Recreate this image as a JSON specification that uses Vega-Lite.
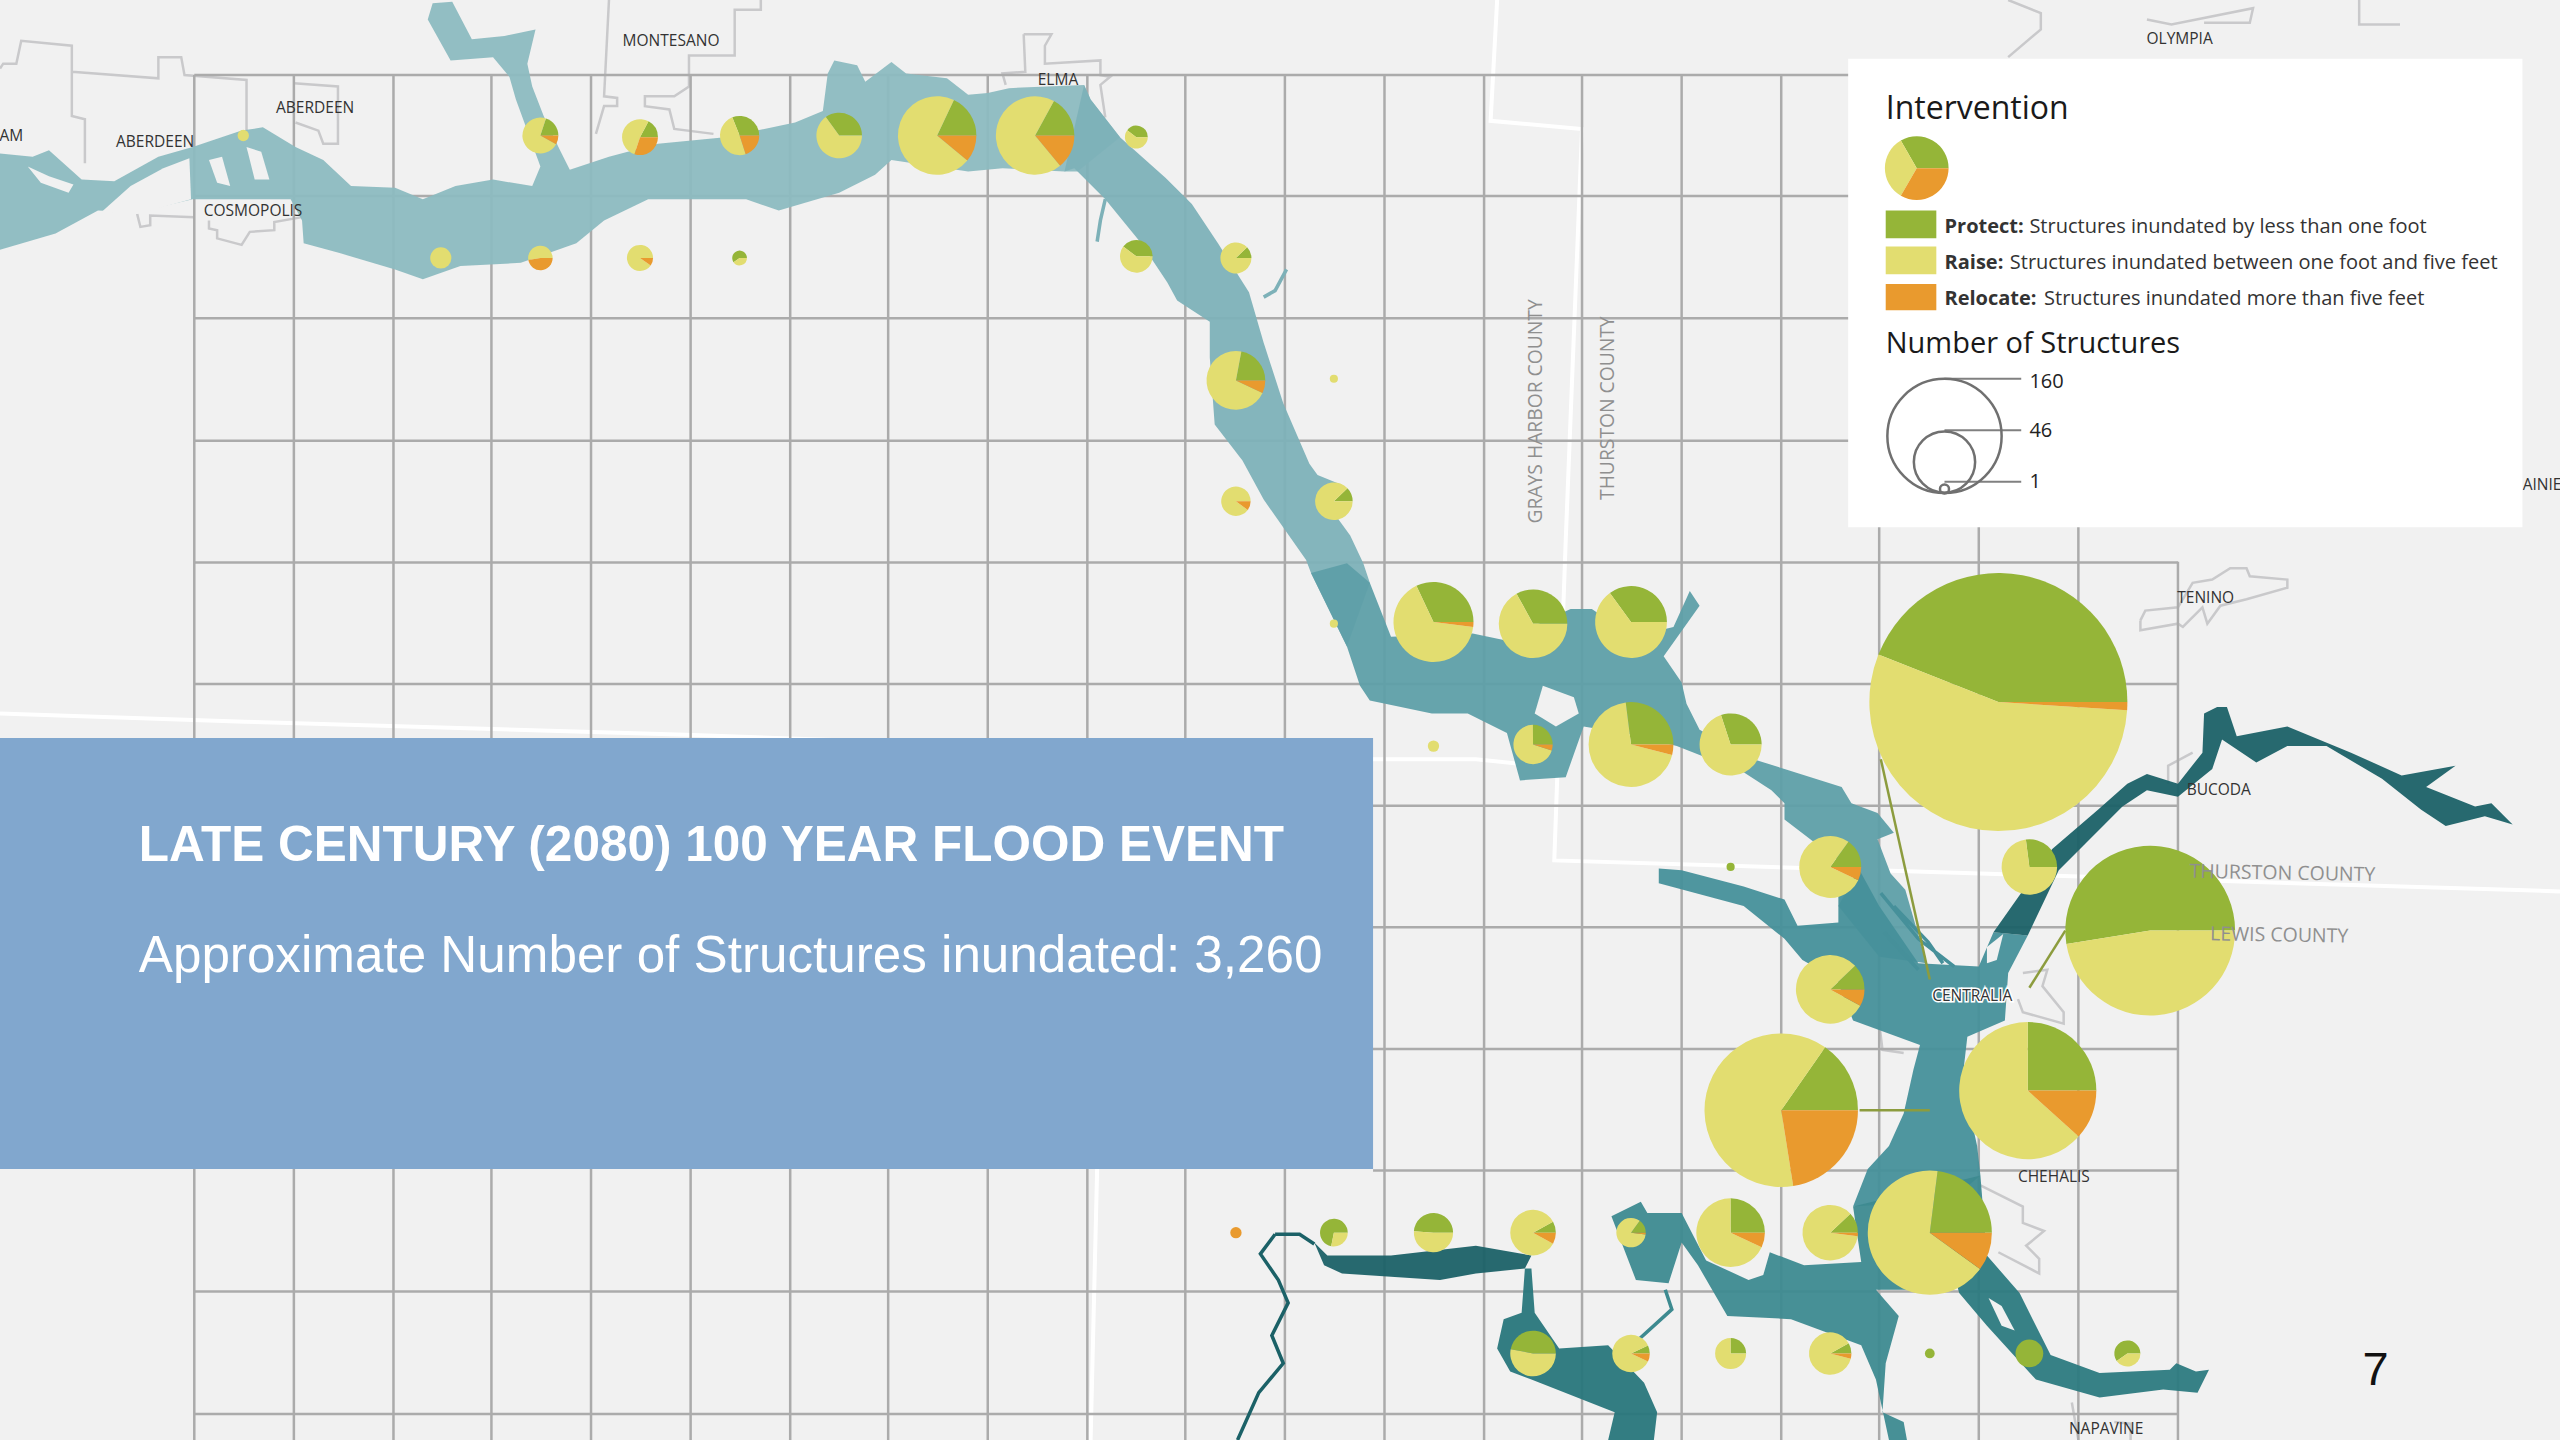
{"$schema":"https://vega.github.io/schema/vega-lite/v6.json","width":2560,"height":1440,"padding":0,"autosize":{"type":"none"},"background":"#f1f1f1","config":{"view":{"stroke":null},"axis":{"disable":true},"legend":{"disable":true}},
"layer":[
{"data":{"values":[
{"type":"Feature","properties":{"kind":"county"},"geometry":{"type":"LineString","coordinates":[[917,0],[913,74],[969,79],[959,331],[952,527],[1213,535],[1568,546]]}},
{"type":"Feature","properties":{"kind":"county"},"geometry":{"type":"LineString","coordinates":[[0,437],[150,442],[420,450],[841,465],[904,465],[952,470]]}},
{"type":"Feature","properties":{"kind":"county"},"geometry":{"type":"LineString","coordinates":[[672,716],[668,882]]}}]},
"mark":{"type":"geoshape","filled":false,"stroke":"#ffffff","strokeWidth":4},"projection":{"type":"identity","scale":1.63265,"translate":[0,0]}},
{"data":{"values":[
{"type":"Feature","properties":{"kind":"city"},"geometry":{"type":"MultiLineString","coordinates":[
[[0,42],[2,39],[10,39],[13,25],[44,28],[44,71],[52,73],[52,100]],
[[44,44],[97,48],[97,35],[111,35],[113,46],[151,49],[151,82]],
[[180,51],[207,53],[207,88],[198,88],[195,80],[181,75]],
[[128,135],[128,140],[133,141],[133,146],[148,150],[153,142],[168,141],[168,136],[185,133]],
[[84,131],[86,139],[92,138],[92,132],[119,133]],
[[373,0],[370,59],[378,60],[378,65],[370,65],[365,82]],
[[466,0],[466,6],[450,6],[450,34],[422,34],[422,53],[413,59],[395,59],[395,65],[410,67],[413,79],[437,82]],
[[627,21],[644,21],[640,28],[640,39],[674,37],[674,46],[680,47],[674,52],[677,72]],
[[627,21],[628,44],[614,45],[616,52]],
[[1230,0],[1250,8],[1250,18],[1230,35]],
[[1315,12],[1330,15],[1380,5],[1378,14],[1350,14]],
[[1445,0],[1445,15],[1470,15]],
[[1311,380],[1314,374],[1334,372],[1343,357],[1355,355],[1366,348],[1376,348],[1378,353],[1401,355],[1401,360],[1376,367],[1360,371],[1352,382],[1349,372],[1337,384],[1334,382],[1311,386],[1311,380]],
[[1328,480],[1328,469],[1343,461]],
[[1239,596],[1254,594],[1251,604],[1264,620],[1264,627],[1239,620],[1236,612]],
[[1213,726],[1239,739],[1239,749],[1252,754],[1241,763],[1249,771],[1249,780],[1224,767]],
[[1269,859],[1273,882]],[[1295,871],[1305,872],[1305,882]],
[[1151,626],[1153,643],[1166,645]]
]}}]},
"mark":{"type":"geoshape","filled":false,"stroke":"#c9c9cb","strokeWidth":2.5},"projection":{"type":"identity","scale":1.63265,"translate":[0,0]}},
{"data":{"values":[
{"x":119,"x2":119,"y":46,"y2":882},{"x":180,"x2":180,"y":46,"y2":882},{"x":241,"x2":241,"y":46,"y2":882},{"x":301,"x2":301,"y":46,"y2":882},{"x":362,"x2":362,"y":46,"y2":882},{"x":423,"x2":423,"y":46,"y2":882},{"x":484,"x2":484,"y":46,"y2":882},{"x":544,"x2":544,"y":46,"y2":882},{"x":605,"x2":605,"y":46,"y2":882},{"x":666,"x2":666,"y":46,"y2":882},{"x":726,"x2":726,"y":46,"y2":882},{"x":787,"x2":787,"y":46,"y2":882},{"x":848,"x2":848,"y":46,"y2":882},{"x":909,"x2":909,"y":46,"y2":882},{"x":969,"x2":969,"y":46,"y2":882},{"x":1030,"x2":1030,"y":46,"y2":882},{"x":1091,"x2":1091,"y":46,"y2":882},{"x":1151,"x2":1151,"y":46,"y2":882},{"x":1212,"x2":1212,"y":46,"y2":882},{"x":1273,"x2":1273,"y":46,"y2":882},{"x":1334,"x2":1334,"y":344,"y2":882},
{"x":119,"x2":1334,"y":46,"y2":46},{"x":119,"x2":1334,"y":120,"y2":120},{"x":119,"x2":1334,"y":195,"y2":195},{"x":119,"x2":1334,"y":270,"y2":270},{"x":119,"x2":1334,"y":344.5,"y2":344.5},{"x":119,"x2":1334,"y":419,"y2":419},{"x":119,"x2":1334,"y":493.5,"y2":493.5},{"x":119,"x2":1334,"y":568,"y2":568},{"x":119,"x2":1334,"y":642.5,"y2":642.5},{"x":841,"x2":1334,"y":717,"y2":717},{"x":119,"x2":1334,"y":791,"y2":791},{"x":119,"x2":1334,"y":866,"y2":866}]},
"mark":{"type":"rule","color":"#ababab","strokeWidth":2.5},
"encoding":{"x":{"field":"x","type":"quantitative","scale":{"domain":[0,1568]}},"x2":{"field":"x2"},"y":{"field":"y","type":"quantitative","scale":{"domain":[882,0]}},"y2":{"field":"y2"}}},
{"data":{"values":[
{"type":"Feature","properties":{"reach":"west"},"geometry":{"type":"Polygon","coordinates":[[[0,94],[20,96],[30,92],[50,110],[70,111],[97,96],[118,90],[148,80],[161,78],[181,90],[198,98],[215,114],[242,115],[259,122],[279,114],[302,110],[326,114],[331,102],[316,61],[312,47],[302,35],[276,37],[262,12],[265,2],[277,1],[289,24],[309,22],[328,18],[323,39],[326,53],[333,71],[343,92],[349,104],[373,96],[403,88],[444,84],[487,75],[504,68],[507,45],[511,37],[525,40],[530,50],[546,38],[555,45],[580,48],[593,58],[605,57],[618,54],[664,52],[668,61],[686,84],[660,105],[652,105],[614,103],[593,105],[546,98],[536,107],[514,118],[477,129],[457,122],[397,122],[370,135],[353,149],[319,161],[282,163],[259,171],[242,165],[208,155],[186,149],[185,135],[178,122],[118,122],[84,130],[60,129],[34,143],[0,153],[0,94]]]}},
{"type":"Feature","properties":{"reach":"north"},"geometry":{"type":"Polygon","coordinates":[[[664,52],[668,61],[686,84],[714,109],[730,125],[746,149],[765,179],[774,210],[786,247],[802,284],[807,291],[822,297],[811,306],[827,328],[835,345],[839,357],[825,396],[803,351],[800,343],[774,306],[761,282],[744,260],[741,219],[741,197],[721,184],[715,173],[699,149],[677,122],[658,103],[652,105],[664,52]]]}},
{"type":"Feature","properties":{"reach":"middle"},"geometry":{"type":"Polygon","coordinates":[[[803,351],[825,345],[839,357],[852,390],[902,388],[921,392],[962,373],[975,373],[1000,390],[1025,384],[1035,362],[1041,371],[1019,402],[1030,418],[1033,431],[1041,447],[1074,465],[1093,471],[1128,482],[1134,492],[1150,498],[1160,510],[1150,514],[1158,535],[1167,545],[1180,590],[1151,586],[1126,555],[1137,535],[1110,515],[1093,502],[1093,492],[1085,484],[1068,473],[1027,457],[1000,450],[970,445],[959,476],[931,478],[923,449],[899,437],[877,437],[839,429],[833,420],[825,396],[803,351]]]}},
{"type":"Feature","properties":{"reach":"trunk"},"geometry":{"type":"Polygon","coordinates":[[[1016,532],[1030,533],[1068,543],[1093,551],[1101,567],[1126,565],[1126,549],[1139,533],[1151,555],[1175,590],[1212,592],[1221,571],[1242,573],[1230,596],[1228,625],[1205,635],[1202,661],[1211,702],[1213,720],[1195,735],[1135,739],[1144,716],[1157,702],[1166,682],[1172,655],[1176,640],[1135,625],[1125,600],[1104,588],[1093,575],[1068,555],[1016,541],[1016,532]]]}},
{"type":"Feature","properties":{"reach":"south"},"geometry":{"type":"Polygon","coordinates":[[[987,745],[1005,736],[1009,743],[1030,743],[1045,772],[1071,784],[1080,781],[1084,767],[1105,775],[1140,773],[1135,739],[1213,720],[1217,770],[1200,788],[1175,790],[1149,790],[1163,806],[1155,835],[1153,865],[1166,871],[1168,882],[1157,882],[1149,845],[1140,824],[1097,808],[1058,806],[1040,775],[1030,761],[1022,786],[1002,784],[987,745]]]}},
{"type":"Feature","properties":{"reach":"southeast"},"geometry":{"type":"Polygon","coordinates":[[[1196,760],[1217,769],[1237,792],[1249,816],[1256,830],[1286,841],[1329,839],[1333,835],[1345,840],[1353,839],[1346,853],[1325,851],[1286,856],[1247,845],[1217,812],[1200,792],[1196,777],[1196,760]]]}},
{"type":"Feature","properties":{"reach":"east"},"geometry":{"type":"Polygon","coordinates":[[[1221,571],[1257,520],[1285,496],[1303,480],[1315,474],[1334,480],[1349,461],[1350,437],[1358,433],[1364,433],[1370,451],[1401,445],[1440,461],[1471,475],[1504,469],[1486,482],[1516,494],[1526,492],[1539,505],[1522,500],[1498,506],[1483,496],[1459,477],[1425,457],[1401,457],[1382,467],[1361,453],[1355,471],[1334,488],[1315,484],[1300,494],[1276,518],[1261,533],[1242,573],[1221,571]]]}},
{"type":"Feature","properties":{"reach":"southwest"},"geometry":{"type":"Polygon","coordinates":[[[805,761],[813,769],[852,769],[904,763],[938,769],[934,777],[904,780],[882,784],[852,782],[822,780],[811,775],[805,761]]]}},
{"type":"Feature","properties":{"reach":"southwest2"},"geometry":{"type":"Polygon","coordinates":[[[934,777],[932,804],[921,808],[917,826],[925,840],[938,845],[989,865],[985,882],[1013,882],[1015,865],[1007,847],[985,824],[955,826],[940,804],[938,777],[934,777]]]}}]},
"mark":{"type":"geoshape","opacity":0.95},"projection":{"type":"identity","scale":1.63265,"translate":[0,0]},
"encoding":{"color":{"field":"properties.reach","type":"nominal","scale":{"domain":["west","north","middle","trunk","south","southeast","east","southwest","southwest2","Protect","Raise","Relocate"],"range":["#8cbac0","#7db1b8","#5e9fa8","#46909a","#3d8a90","#2c7a80","#1b6167","#1b6167","#28767b","#95b538","#e2dd70","#e99a2e"]}}}},
{"data":{"values":[
{"type":"Feature","properties":{"reach":"north"},"geometry":{"type":"MultiLineString","coordinates":[[[774,182],[781,178],[788,165]],[[677,122],[674,135],[672,148]]]}},
{"type":"Feature","properties":{"reach":"southwest"},"geometry":{"type":"MultiLineString","coordinates":[[[781,756],[796,756],[805,762]],[[781,756],[772,768],[783,784],[789,798],[779,818],[786,835],[771,853],[758,882]]]}},
{"type":"Feature","properties":{"reach":"south"},"geometry":{"type":"LineString","coordinates":[[1020,790],[1024,802],[1002,822]]}},
{"type":"Feature","properties":{"reach":"trunk"},"geometry":{"type":"MultiLineString","coordinates":[[[1152,547],[1175,575],[1197,592]],[[1154,571],[1175,594]],[[1160,555],[1181,577],[1190,590]]]}}]},
"mark":{"type":"geoshape","filled":false,"strokeWidth":3.5},"projection":{"type":"identity","scale":1.63265,"translate":[0,0]},
"encoding":{"color":{"field":"properties.reach","type":"nominal","scale":{"domain":["west","north","middle","trunk","south","southeast","east","southwest","southwest2","Protect","Raise","Relocate"],"range":["#8cbac0","#7db1b8","#5e9fa8","#46909a","#3d8a90","#2c7a80","#1b6167","#1b6167","#28767b","#95b538","#e2dd70","#e99a2e"]}}}},
{"data":{"values":[
{"type":"Feature","properties":{"kind":"land"},"geometry":{"type":"Polygon","coordinates":[[[17,102],[30,108],[45,113],[42,118],[25,112],[17,102]]]}},
{"type":"Feature","properties":{"kind":"land"},"geometry":{"type":"Polygon","coordinates":[[[62,130],[80,114],[100,103],[116,97],[117,122],[84,131],[62,130]]]}},
{"type":"Feature","properties":{"kind":"land"},"geometry":{"type":"Polygon","coordinates":[[[128,98],[136,96],[141,114],[133,112],[128,98]]]}},
{"type":"Feature","properties":{"kind":"land"},"geometry":{"type":"Polygon","coordinates":[[[151,90],[160,93],[165,110],[156,110],[151,90]]]}},
{"type":"Feature","properties":{"kind":"land"},"geometry":{"type":"Polygon","coordinates":[[[945,420],[964,427],[967,437],[953,445],[940,437],[945,420]]]}},
{"type":"Feature","properties":{"kind":"land"},"geometry":{"type":"Polygon","coordinates":[[[1218,795],[1226,800],[1234,815],[1226,812],[1218,795]]]}},
{"type":"Feature","properties":{"kind":"land"},"geometry":{"type":"Polygon","coordinates":[[[1217,580],[1227,572],[1223,588],[1217,590],[1217,580]]]}}]},
"mark":{"type":"geoshape","fill":"#f1f1f1","stroke":null},"projection":{"type":"identity","scale":1.63265,"translate":[0,0]}},
{"data":{"values":[{"x":1152,"x2":1182,"y":465,"y2":600},{"x":1265,"x2":1243,"y":570,"y2":605},{"x":1139,"x2":1182,"y":680,"y2":680}]},
"mark":{"type":"rule","color":"#8c9c3e","strokeWidth":2.5},
"encoding":{"x":{"field":"x","type":"quantitative","scale":{"domain":[0,1568]}},"x2":{"field":"x2"},"y":{"field":"y","type":"quantitative","scale":{"domain":[882,0]}},"y2":{"field":"y2"}}},
{"data":{"values":[
{"x":331,"y":83,"i":"Protect","n":0.62},{"x":331,"y":83,"i":"Raise","n":2.23},{"x":331,"y":83,"i":"Relocate","n":0.25},
{"x":392,"y":84,"i":"Protect","n":0.53},{"x":392,"y":84,"i":"Raise","n":1.64},{"x":392,"y":84,"i":"Relocate","n":0.93},
{"x":453,"y":83,"i":"Protect","n":1.15},{"x":453,"y":83,"i":"Raise","n":1.81},{"x":453,"y":83,"i":"Relocate","n":0.74},
{"x":514,"y":83,"i":"Protect","n":1.75},{"x":514,"y":83,"i":"Raise","n":3.25},
{"x":574,"y":83,"i":"Protect","n":2.66},{"x":574,"y":83,"i":"Raise","n":10.51},{"x":574,"y":83,"i":"Relocate","n":1.63},
{"x":634,"y":83,"i":"Protect","n":2.52},{"x":634,"y":83,"i":"Raise","n":10.21},{"x":634,"y":83,"i":"Relocate","n":2.07},
{"x":696,"y":84,"i":"Protect","n":0.5},{"x":696,"y":84,"i":"Raise","n":0.76},
{"x":270,"y":158,"i":"Raise","n":1.08},
{"x":331,"y":158,"i":"Raise","n":0.76},{"x":331,"y":158,"i":"Relocate","n":0.68},
{"x":392,"y":158,"i":"Raise","n":1.48},{"x":392,"y":158,"i":"Relocate","n":0.16},
{"x":453,"y":158,"i":"Protect","n":0.31},{"x":453,"y":158,"i":"Raise","n":0.21},
{"x":696,"y":157,"i":"Protect","n":1.02},{"x":696,"y":157,"i":"Raise","n":1.54},
{"x":757,"y":158,"i":"Protect","n":0.28},{"x":757,"y":158,"i":"Raise","n":2.03},
{"x":757,"y":233,"i":"Protect","n":1.83},{"x":757,"y":233,"i":"Raise","n":5.89},{"x":757,"y":233,"i":"Relocate","n":0.58},
{"x":817,"y":232,"i":"Raise","n":0.16},
{"x":757,"y":307,"i":"Raise","n":1.87},{"x":757,"y":307,"i":"Relocate","n":0.21},
{"x":817,"y":307,"i":"Protect","n":0.41},{"x":817,"y":307,"i":"Raise","n":2.98},
{"x":817,"y":382,"i":"Raise","n":0.16},
{"x":878,"y":381,"i":"Protect","n":4.93},{"x":878,"y":381,"i":"Raise","n":10.16},{"x":878,"y":381,"i":"Relocate","n":0.31},
{"x":939,"y":382,"i":"Protect","n":3.73},{"x":939,"y":382,"i":"Raise","n":7.57},
{"x":999,"y":381,"i":"Protect","n":4.34},{"x":999,"y":381,"i":"Raise","n":8.06},
{"x":878,"y":457,"i":"Raise","n":0.31},
{"x":939,"y":456,"i":"Protect","n":0.93},{"x":939,"y":456,"i":"Raise","n":2.59},{"x":939,"y":456,"i":"Relocate","n":0.18},
{"x":999,"y":456,"i":"Protect","n":4.67},{"x":999,"y":456,"i":"Raise","n":11.94},{"x":999,"y":456,"i":"Relocate","n":0.69},
{"x":1060,"y":456,"i":"Protect","n":2.78},{"x":1060,"y":456,"i":"Raise","n":6.48},
{"x":1060,"y":531,"i":"Protect","n":0.16},
{"x":1121,"y":531,"i":"Protect","n":1.39},{"x":1121,"y":531,"i":"Raise","n":7.22},{"x":1121,"y":531,"i":"Relocate","n":0.65},
{"x":1243,"y":531,"i":"Protect","n":2},{"x":1243,"y":531,"i":"Raise","n":5.4},
{"x":1224,"y":430,"i":"Protect","n":70.4},{"x":1224,"y":430,"i":"Raise","n":88},{"x":1224,"y":430,"i":"Relocate","n":1.6},
{"x":1317,"y":570,"i":"Protect","n":36.4},{"x":1317,"y":570,"i":"Raise","n":32.9},
{"x":1121,"y":606,"i":"Protect","n":1.36},{"x":1121,"y":606,"i":"Raise","n":9.04},{"x":1121,"y":606,"i":"Relocate","n":0.9},
{"x":1091,"y":680,"i":"Protect","n":8.66},{"x":1091,"y":680,"i":"Raise","n":35.2},{"x":1091,"y":680,"i":"Relocate","n":12.74},
{"x":1242,"y":668,"i":"Protect","n":11.3},{"x":1242,"y":668,"i":"Raise","n":28.61},{"x":1242,"y":668,"i":"Relocate","n":5.29},
{"x":817,"y":755,"i":"Protect","n":1.33},{"x":817,"y":755,"i":"Raise","n":0.52},
{"x":878,"y":755,"i":"Protect","n":1.81},{"x":878,"y":755,"i":"Raise","n":1.89},
{"x":939,"y":755,"i":"Protect","n":0.4},{"x":939,"y":755,"i":"Raise","n":4.2},{"x":939,"y":755,"i":"Relocate","n":0.4},
{"x":757,"y":755,"i":"Relocate","n":0.31},
{"x":999,"y":755,"i":"Protect","n":0.31},{"x":999,"y":755,"i":"Raise","n":1.73},{"x":999,"y":755,"i":"Relocate","n":0.04},
{"x":1060,"y":755,"i":"Protect","n":2.83},{"x":1060,"y":755,"i":"Raise","n":7.68},{"x":1060,"y":755,"i":"Relocate","n":0.79},
{"x":1121,"y":755,"i":"Protect","n":0.89},{"x":1121,"y":755,"i":"Raise","n":6.36},{"x":1121,"y":755,"i":"Relocate","n":0.15},
{"x":1182,"y":755,"i":"Protect","n":8.51},{"x":1182,"y":755,"i":"Raise","n":24.79},{"x":1182,"y":755,"i":"Relocate","n":3.7},
{"x":939,"y":829,"i":"Protect","n":2.35},{"x":939,"y":829,"i":"Raise","n":2.65},
{"x":999,"y":829,"i":"Protect","n":0.24},{"x":999,"y":829,"i":"Raise","n":2.91},{"x":999,"y":829,"i":"Relocate","n":0.24},
{"x":1060,"y":829,"i":"Protect","n":0.58},{"x":1060,"y":829,"i":"Raise","n":1.73},
{"x":1121,"y":829,"i":"Protect","n":0.35},{"x":1121,"y":829,"i":"Raise","n":3.81},{"x":1121,"y":829,"i":"Relocate","n":0.17},
{"x":1182,"y":829,"i":"Protect","n":0.23},
{"x":1243,"y":829,"i":"Protect","n":1.85},
{"x":1303,"y":829,"i":"Protect","n":0.98},{"x":1303,"y":829,"i":"Raise","n":0.66},
{"x":149,"y":83,"i":"Raise","n":0.31}]},
"transform":[{"joinaggregate":[{"op":"sum","field":"n","as":"total"}],"groupby":["x","y"]},{"stack":"n","groupby":["x","y"],"sort":[{"field":"i","order":"descending"}],"offset":"normalize","as":["a0","a1"]}],
"mark":{"type":"arc"},
"encoding":{"x":{"field":"x","type":"quantitative","scale":{"domain":[0,1568]}},"y":{"field":"y","type":"quantitative","scale":{"domain":[882,0]}},
"theta":{"field":"a0","type":"quantitative","scale":{"domain":[0,1],"range":[1.5708,7.854]}},"theta2":{"field":"a1"},
"radius":{"field":"total","type":"quantitative","scale":{"type":"sqrt","domain":[0,160],"range":[0,129]}},
"color":{"field":"i","type":"nominal","scale":{"domain":["west","north","middle","trunk","south","southeast","east","southwest","southwest2","Protect","Raise","Relocate"],"range":["#8cbac0","#7db1b8","#5e9fa8","#46909a","#3d8a90","#2c7a80","#1b6167","#1b6167","#28767b","#95b538","#e2dd70","#e99a2e"]}}}},
{"data":{"values":[{"x":1208,"y":610,"t":"CENTRALIA"}]},
"mark":{"type":"text","font":"Open Sans","fontSize":15.5,"stroke":"#ffffff","strokeWidth":3,"color":"#ffffff","align":"center","baseline":"middle"},
"encoding":{"x":{"field":"x","type":"quantitative","scale":{"domain":[0,1568]}},"y":{"field":"y","type":"quantitative","scale":{"domain":[882,0]}},"text":{"field":"t"}}},
{"data":{"values":[{"x":411,"y":25,"t":"MONTESANO"},{"x":193,"y":66,"t":"ABERDEEN"},{"x":95,"y":87,"t":"ABERDEEN"},{"x":7,"y":83,"t":"AM"},{"x":155,"y":129,"t":"COSMOPOLIS"},{"x":648,"y":49,"t":"ELMA"},{"x":1335,"y":24,"t":"OLYMPIA"},{"x":1351,"y":366,"t":"TENINO"},{"x":1359,"y":484,"t":"BUCODA"},{"x":1208,"y":610,"t":"CENTRALIA"},{"x":1258,"y":721,"t":"CHEHALIS"},{"x":1290,"y":875,"t":"NAPAVINE"},{"x":1557,"y":297,"t":"AINIE"}]},
"mark":{"type":"text","font":"Open Sans","fontSize":15.5,"color":"#333333","align":"center","baseline":"middle"},
"encoding":{"x":{"field":"x","type":"quantitative","scale":{"domain":[0,1568]}},"y":{"field":"y","type":"quantitative","scale":{"domain":[882,0]}},"text":{"field":"t"}}},
{"data":{"values":[{"x":941,"y":252,"t":"GRAYS HARBOR COUNTY"},{"x":985,"y":250,"t":"THURSTON COUNTY"}]},
"mark":{"type":"text","font":"Open Sans","fontSize":19.3,"color":"#8f8f8f","align":"center","baseline":"middle","angle":270},
"encoding":{"x":{"field":"x","type":"quantitative","scale":{"domain":[0,1568]}},"y":{"field":"y","type":"quantitative","scale":{"domain":[882,0]}},"text":{"field":"t"}}},
{"data":{"values":[{"x":1398,"y":535,"t":"THURSTON COUNTY"},{"x":1396,"y":573,"t":"LEWIS COUNTY"}]},
"mark":{"type":"text","font":"Open Sans","fontSize":19.5,"color":"#8f8f8f","align":"center","baseline":"middle","angle":1},
"encoding":{"x":{"field":"x","type":"quantitative","scale":{"domain":[0,1568]}},"y":{"field":"y","type":"quantitative","scale":{"domain":[882,0]}},"text":{"field":"t"}}},
{"data":{"values":[{"x":0,"x2":841,"y":452,"y2":716}]},"mark":{"type":"rect","color":"#81a7ce"},
"encoding":{"x":{"field":"x","type":"quantitative","scale":{"domain":[0,1568]}},"x2":{"field":"x2"},"y":{"field":"y","type":"quantitative","scale":{"domain":[882,0]}},"y2":{"field":"y2"}}},
{"data":{"values":[{"x":85,"y":518,"t":"LATE CENTURY (2080) 100 YEAR FLOOD EVENT"}]},
"mark":{"type":"text","font":"Liberation Sans","fontWeight":"bold","fontSize":49.5,"color":"#ffffff","align":"left","baseline":"middle"},
"encoding":{"x":{"field":"x","type":"quantitative","scale":{"domain":[0,1568]}},"y":{"field":"y","type":"quantitative","scale":{"domain":[882,0]}},"text":{"field":"t"}}},
{"data":{"values":[{"x":85,"y":586,"t":"Approximate Number of Structures inundated: 3,260"}]},
"mark":{"type":"text","font":"Liberation Sans","fontSize":51.2,"color":"#ffffff","align":"left","baseline":"middle"},
"encoding":{"x":{"field":"x","type":"quantitative","scale":{"domain":[0,1568]}},"y":{"field":"y","type":"quantitative","scale":{"domain":[882,0]}},"text":{"field":"t"}}},
{"data":{"values":[{"x":1455,"y":840,"t":"7"}]},
"mark":{"type":"text","font":"Liberation Sans","fontSize":47,"color":"#111111","align":"center","baseline":"middle"},
"encoding":{"x":{"field":"x","type":"quantitative","scale":{"domain":[0,1568]}},"y":{"field":"y","type":"quantitative","scale":{"domain":[882,0]}},"text":{"field":"t"}}},
{"data":{"values":[{"x":1132,"x2":1545,"y":36,"y2":323}]},"mark":{"type":"rect","color":"#ffffff"},
"encoding":{"x":{"field":"x","type":"quantitative","scale":{"domain":[0,1568]}},"x2":{"field":"x2"},"y":{"field":"y","type":"quantitative","scale":{"domain":[882,0]}},"y2":{"field":"y2"}}},
{"data":{"values":[{"x":1174,"y":103,"i":"Protect","n":3.25},{"x":1174,"y":103,"i":"Raise","n":3.25},{"x":1174,"y":103,"i":"Relocate","n":3.25}]},
"transform":[{"joinaggregate":[{"op":"sum","field":"n","as":"total"}],"groupby":["x","y"]},{"stack":"n","groupby":["x","y"],"sort":[{"field":"i","order":"descending"}],"offset":"normalize","as":["a0","a1"]}],
"mark":{"type":"arc"},
"encoding":{"x":{"field":"x","type":"quantitative","scale":{"domain":[0,1568]}},"y":{"field":"y","type":"quantitative","scale":{"domain":[882,0]}},
"theta":{"field":"a0","type":"quantitative","scale":{"domain":[0,1],"range":[1.5708,7.854]}},"theta2":{"field":"a1"},
"radius":{"field":"total","type":"quantitative","scale":{"type":"sqrt","domain":[0,160],"range":[0,129]}},
"color":{"field":"i","type":"nominal","scale":{"domain":["west","north","middle","trunk","south","southeast","east","southwest","southwest2","Protect","Raise","Relocate"],"range":["#8cbac0","#7db1b8","#5e9fa8","#46909a","#3d8a90","#2c7a80","#1b6167","#1b6167","#28767b","#95b538","#e2dd70","#e99a2e"]}}}},
{"data":{"values":[{"x":1155,"x2":1186,"y":129,"y2":146,"i":"Protect"},{"x":1155,"x2":1186,"y":151,"y2":168,"i":"Raise"},{"x":1155,"x2":1186,"y":174,"y2":190,"i":"Relocate"}]},
"mark":{"type":"rect"},
"encoding":{"x":{"field":"x","type":"quantitative","scale":{"domain":[0,1568]}},"x2":{"field":"x2"},"y":{"field":"y","type":"quantitative","scale":{"domain":[882,0]}},"y2":{"field":"y2"},
"color":{"field":"i","type":"nominal","scale":{"domain":["west","north","middle","trunk","south","southeast","east","southwest","southwest2","Protect","Raise","Relocate"],"range":["#8cbac0","#7db1b8","#5e9fa8","#46909a","#3d8a90","#2c7a80","#1b6167","#1b6167","#28767b","#95b538","#e2dd70","#e99a2e"]}}}},
{"data":{"values":[{"x":1155,"y":67,"t":"Intervention"}]},
"mark":{"type":"text","font":"Open Sans","fontSize":32,"color":"#1a1a1a","align":"left","baseline":"middle"},
"encoding":{"x":{"field":"x","type":"quantitative","scale":{"domain":[0,1568]}},"y":{"field":"y","type":"quantitative","scale":{"domain":[882,0]}},"text":{"field":"t"}}},
{"data":{"values":[{"x":1155,"y":211,"t":"Number of Structures"}]},
"mark":{"type":"text","font":"Open Sans","fontSize":29,"color":"#1a1a1a","align":"left","baseline":"middle"},
"encoding":{"x":{"field":"x","type":"quantitative","scale":{"domain":[0,1568]}},"y":{"field":"y","type":"quantitative","scale":{"domain":[882,0]}},"text":{"field":"t"}}},
{"data":{"values":[{"x":1191,"y":139,"t":"Protect:"},{"x":1191,"y":161,"t":"Raise:"},{"x":1191,"y":183,"t":"Relocate:"}]},
"mark":{"type":"text","font":"Open Sans","fontWeight":"bold","fontSize":20,"color":"#333333","align":"left","baseline":"middle"},
"encoding":{"x":{"field":"x","type":"quantitative","scale":{"domain":[0,1568]}},"y":{"field":"y","type":"quantitative","scale":{"domain":[882,0]}},"text":{"field":"t"}}},
{"data":{"values":[{"x":1243,"y":139,"t":"Structures inundated by less than one foot"},{"x":1231,"y":161,"t":"Structures inundated between one foot and five feet"},{"x":1252,"y":183,"t":"Structures inundated more than five feet"}]},
"mark":{"type":"text","font":"Open Sans","fontSize":20,"color":"#333333","align":"left","baseline":"middle"},
"encoding":{"x":{"field":"x","type":"quantitative","scale":{"domain":[0,1568]}},"y":{"field":"y","type":"quantitative","scale":{"domain":[882,0]}},"text":{"field":"t"}}},
{"data":{"values":[{"x":1191,"x2":1238,"y":232,"y2":232},{"x":1191,"x2":1238,"y":263.5,"y2":263.5},{"x":1191,"x2":1238,"y":295,"y2":295}]},
"mark":{"type":"rule","color":"#808080","strokeWidth":2},
"encoding":{"x":{"field":"x","type":"quantitative","scale":{"domain":[0,1568]}},"x2":{"field":"x2"},"y":{"field":"y","type":"quantitative","scale":{"domain":[882,0]}},"y2":{"field":"y2"}}},
{"data":{"values":[{"x":1191,"y":267,"n":160},{"x":1191,"y":283,"n":46},{"x":1191,"y":299.5,"n":1}]},
"mark":{"type":"point","shape":"circle","filled":false,"color":"#707070","strokeWidth":2.5,"opacity":1},
"encoding":{"x":{"field":"x","type":"quantitative","scale":{"domain":[0,1568]}},"y":{"field":"y","type":"quantitative","scale":{"domain":[882,0]}},"size":{"field":"n","type":"quantitative","scale":{"domain":[0,160],"range":[0,13060]}}}},
{"data":{"values":[{"x":1243,"y":234,"t":"160"},{"x":1243,"y":264,"t":"46"},{"x":1243,"y":295,"t":"1"}]},
"mark":{"type":"text","font":"Open Sans","fontSize":20,"color":"#222222","align":"left","baseline":"middle"},
"encoding":{"x":{"field":"x","type":"quantitative","scale":{"domain":[0,1568]}},"y":{"field":"y","type":"quantitative","scale":{"domain":[882,0]}},"text":{"field":"t"}}}
]}
